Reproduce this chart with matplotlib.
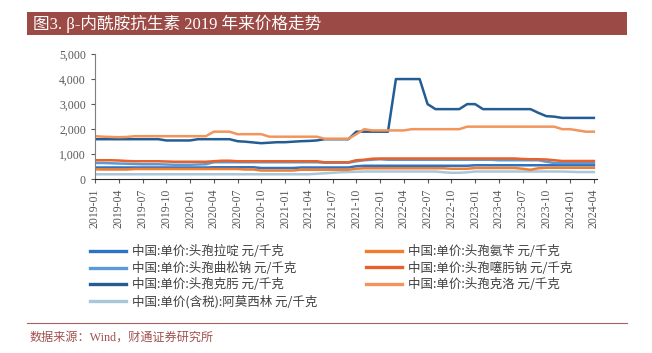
import matplotlib.pyplot as plt
from matplotlib.patches import Rectangle
from matplotlib.lines import Line2D
from matplotlib.ticker import FuncFormatter

plt.rcParams['font.family'] = ['Liberation Serif', 'Noto Sans CJK SC', 'DejaVu Sans']

# monthly, 2019-01 .. 2024-04 (64 points)
months = [f"{y}-{m:02d}" for y in range(2019, 2025) for m in range(1, 13)][:64]

cefradine = [470, 470, 470, 470, 470, 470, 470, 470, 470, 470, 470, 470,
             470, 470, 470, 480, 480, 480, 480, 480, 480, 450, 450, 450,
             450, 450, 470, 470, 470, 470, 470, 470, 470, 520, 540, 540,
             540, 540, 540, 540, 540, 540, 540, 540, 540, 540, 540, 540,
             560, 560, 560, 560, 560, 560, 560, 560, 560, 560, 560, 560,
             560, 560, 560, 560]
cefalexin = [400, 390, 390, 390, 390, 410, 410, 410, 410, 410, 410, 410,
             410, 410, 410, 410, 410, 410, 410, 390, 390, 350, 350, 350,
             350, 350, 380, 380, 380, 380, 380, 380, 380, 420, 440, 440,
             440, 440, 440, 440, 440, 440, 440, 440, 440, 420, 420, 420,
             450, 450, 450, 450, 450, 450, 420, 380, 440, 460, 460, 460,
             460, 460, 460, 460]
ceftriaxone = [650, 650, 640, 630, 620, 610, 600, 600, 600, 590, 580, 580,
               580, 590, 600, 680, 680, 680, 680, 680, 680, 680, 680, 680,
               680, 680, 680, 680, 680, 660, 660, 660, 660, 720, 760, 780,
               800, 780, 780, 780, 780, 780, 780, 780, 780, 780, 780, 780,
               780, 780, 780, 760, 760, 760, 760, 760, 760, 700, 650, 650,
               650, 650, 650, 650]
cefotaxime = [760, 760, 760, 750, 730, 720, 720, 720, 720, 710, 700, 700,
              700, 700, 700, 720, 740, 740, 720, 720, 720, 720, 720, 720,
              720, 720, 720, 720, 720, 680, 680, 680, 680, 760, 780, 820,
              830, 830, 830, 830, 830, 830, 830, 830, 830, 830, 830, 830,
              830, 830, 830, 830, 830, 830, 810, 800, 800, 790, 760, 730,
              730, 730, 730, 730]
cefixime = [1600, 1600, 1600, 1600, 1600, 1600, 1600, 1600, 1600, 1550, 1550, 1550,
            1550, 1600, 1600, 1600, 1600, 1600, 1520, 1500, 1470, 1440, 1460, 1480,
            1480, 1500, 1520, 1530, 1550, 1600, 1600, 1600, 1600, 1900, 1900, 1900,
            1900, 1900, 4000, 4000, 4000, 4000, 3000, 2800, 2800, 2800, 2800, 3000,
            3000, 2800, 2800, 2800, 2800, 2800, 2800, 2800, 2650, 2520, 2500, 2450,
            2450, 2450, 2450, 2450]
cefaclor = [1720, 1700, 1690, 1680, 1690, 1720, 1720, 1720, 1720, 1720, 1720, 1720,
            1720, 1720, 1720, 1900, 1900, 1900, 1800, 1800, 1800, 1800, 1700, 1700,
            1700, 1700, 1700, 1700, 1700, 1620, 1620, 1620, 1620, 1800, 2000, 1950,
            1950, 1950, 1950, 1950, 2000, 2000, 2000, 2000, 2000, 2000, 2000, 2100,
            2100, 2100, 2100, 2100, 2100, 2100, 2100, 2100, 2100, 2100, 2100, 2000,
            2000, 1950, 1900, 1900]
amoxicillin = [200, 200, 200, 200, 200, 200, 200, 200, 200, 200, 200, 200,
               200, 200, 200, 200, 200, 200, 200, 200, 200, 200, 200, 200,
               200, 200, 200, 200, 220, 240, 260, 280, 290, 300, 310, 310,
               310, 310, 310, 310, 310, 310, 310, 310, 280, 260, 260, 280,
               310, 310, 310, 310, 310, 310, 310, 310, 310, 310, 310, 310,
               300, 290, 290, 290]

labels = ["中国:单价:头孢拉啶 元/千克", "中国:单价:头孢氨苄 元/千克",
          "中国:单价:头孢曲松钠 元/千克", "中国:单价:头孢噻肟钠 元/千克",
          "中国:单价:头孢克肟 元/千克", "中国:单价:头孢克洛 元/千克",
          "中国:单价(含税):阿莫西林 元/千克"]
colors = ["#2F72C4", "#F07E2F", "#5B9BD5", "#E8602A", "#245D94", "#F2955C", "#A9C6DA"]
series = [cefradine, cefalexin, ceftriaxone, cefotaxime, cefixime, cefaclor, amoxicillin]

fig = plt.figure(figsize=(6.52, 3.53), dpi=100)

# title bar
fig.patches.append(Rectangle((0.041, 0.901), 0.921, 0.065, transform=fig.transFigure,
                             facecolor="#9C4A46", edgecolor="none"))
fig.text(0.05, 0.933, "图3. β-内酰胺抗生素 2019 年来价格走势", color="white",
         fontsize=12, va="center", ha="left")

ax = fig.add_axes([0.1457, 0.4921, 0.770, 0.3549])
x = list(range(len(months)))
order = [6, 0, 1, 2, 3, 4, 5]
for i in order:
    ax.plot(x, series[i], color=colors[i], lw=1.8, label=labels[i])

ax.set_ylim(0, 5000)
ax.set_xlim(0, 63.4)
ax.set_yticks(range(0, 5001, 1000))
ax.yaxis.set_major_formatter(FuncFormatter(lambda v, p: f"{int(v):,}"))
ax.set_xticks(x[::3])
ax.set_xticklabels(months[::3], rotation=90)
ax.tick_params(axis="both", labelsize=8.5, labelcolor="#595959", direction="out", length=3,
               color="#595959")
for s in ["top", "right"]:
    ax.spines[s].set_visible(False)
ax.spines["left"].set_color("#7f7f7f")
ax.spines["bottom"].set_color("#262626")

leg_left = [0, 2, 4, 6]
leg_right = [1, 3, 5]
for idx, xpos in [(leg_left, 0.138), (leg_right, 0.561)]:
    hs = [Line2D([], [], color=colors[i], lw=2.4) for i in idx]
    leg = fig.legend(hs, [labels[i] for i in idx], loc="upper left",
                     bbox_to_anchor=(xpos, 0.305), frameon=False, fontsize=9,
                     handlelength=2.9, handletextpad=0.45, labelspacing=0.28,
                     borderaxespad=0, borderpad=0)
    for t in leg.get_texts():
        t.set_color("#404040")
        t.set_family(["Noto Sans CJK SC", "DejaVu Sans"])

fig.add_artist(Line2D([0.041, 0.962], [0.085, 0.085], transform=fig.transFigure,
                      color="#A8625E", lw=0.8))
fig.text(0.046, 0.045, "数据来源：Wind，财通证券研究所", color="#A0524E", fontsize=8.7,
         va="center", ha="left")

fig.savefig("out.png", dpi=100)
